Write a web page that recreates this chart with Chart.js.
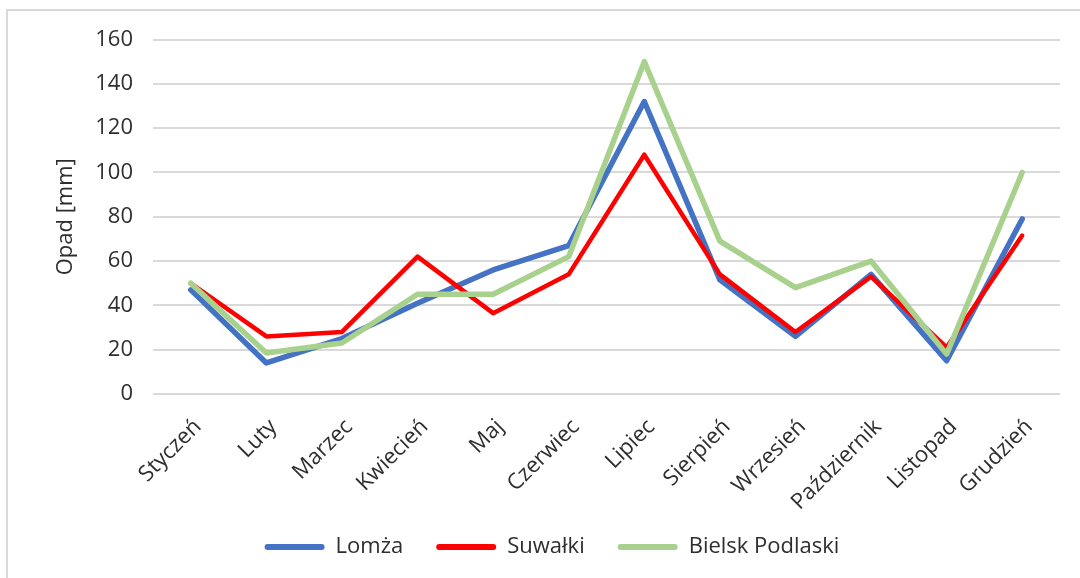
<!DOCTYPE html>
<html lang="pl">
<head>
    <meta charset="UTF-8">
    <title>Opad</title>
    <script src="https://cdn.jsdelivr.net/npm/chart.js"></script>
    <style>
        html, body {
            margin: 0;
            padding: 0;
            background: #fff;
            overflow: hidden;
        }
        .frame {
            position: absolute;
            left: 6px;
            top: 9px;
            width: 1200px;
            height: 700px;
            border-left: 2px solid #d9d9d9;
            border-top: 2px solid #d9d9d9;
        }
        .chart-container {
            position: absolute;
            left: 0;
            top: 0;
            width: 1080px;
            height: 578px;
        }
    </style>
</head>
<body>
    <div class="frame"></div>
    <div class="chart-container">
        <canvas id="rainChart"></canvas>
    </div>

    <script>
        // data (mm)
        const months = ['Styczeń', 'Luty', 'Marzec', 'Kwiecień', 'Maj', 'Czerwiec',
                        'Lipiec', 'Sierpień', 'Wrzesień', 'Październik', 'Listopad', 'Grudzień'];
        const lomza   = [47, 14, 25, 41, 56, 67, 132, 51.5, 26, 54, 15, 79];
        const suwalki = [50, 26, 28, 62, 36.5, 54, 108, 54, 28, 53, 21, 71.5];
        const bielsk  = [50, 18.5, 23, 45, 45, 62, 150, 69, 48, 60, 18, 100];
        const yMin = 0, yMax = 160, yStep = 20;

        const textColor = '#2e2e2e';
        const gridColor = '#d9d9d9';
        const font = { family: "'Open Sans', sans-serif", size: 22 };

        // legend sits a bit right of the canvas centre; month labels
        // must not be clipped by the (short) x axis box
        const layoutTweaks = {
            id: 'layoutTweaks',
            afterLayout(chart) {
                chart.legend.left += 22;
                chart.legend.right += 22;
                chart.scales.x.bottom = chart.height;
            }
        };

        const ctx = document.getElementById('rainChart').getContext('2d');
        new Chart(ctx, {
            type: 'line',
            data: {
                labels: months,
                datasets: [
                    { label: 'Lomża', data: lomza, borderColor: '#4472C4', backgroundColor: '#4472C4', borderWidth: 5.5, order: 3 },
                    { label: 'Suwałki', data: suwalki, borderColor: '#FF0000', backgroundColor: '#FF0000', borderWidth: 4.5, order: 2 },
                    { label: 'Bielsk Podlaski', data: bielsk, borderColor: '#A9D18E', backgroundColor: '#A9D18E', borderWidth: 5.5, order: 1 }
                ]
            },
            options: {
                responsive: true,
                maintainAspectRatio: false,
                animation: false,
                layout: { padding: { left: 0, right: 20, top: 39.5, bottom: 10 } },
                elements: {
                    point: { radius: 0 },
                    line: { tension: 0, fill: false, borderJoinStyle: 'round', borderCapStyle: 'round' }
                },
                scales: {
                    x: {
                        offset: true,
                        grid: { display: false, offset: true },
                        border: { display: false },
                        ticks: { color: textColor, font: font, minRotation: 45, maxRotation: 45, padding: 12, labelOffset: 7 },
                        afterFit(scale) {
                            scale.height = scale.chart.height - 394 - scale.chart.legend.height - 10;
                        }
                    },
                    y: {
                        min: yMin,
                        max: yMax,
                        grid: { color: gridColor, lineWidth: 2, drawTicks: false },
                        border: { display: false },
                        ticks: { stepSize: yStep, color: textColor, font: font, padding: 20 },
                        title: { display: true, text: 'Opad [mm]', color: textColor, font: font, padding: { top: 53, bottom: 0 } },
                        afterFit(scale) {
                            scale.width = 153;
                        }
                    }
                },
                plugins: {
                    tooltip: { enabled: false },
                    legend: {
                        position: 'bottom',
                        labels: {
                            color: textColor,
                            font: font,
                            boxWidth: 60,
                            boxHeight: 6,
                            padding: 33,
                            useBorderRadius: true,
                            borderRadius: 3,
                            sort: (a, b) => a.datasetIndex - b.datasetIndex,
                            generateLabels(chart) {
                                const items = Chart.defaults.plugins.legend.labels.generateLabels(chart);
                                items.forEach(it => { it.lineWidth = 0; });
                                return items;
                            }
                        }
                    }
                }
            },
            plugins: [layoutTweaks]
        });
    </script>
</body>
</html>
